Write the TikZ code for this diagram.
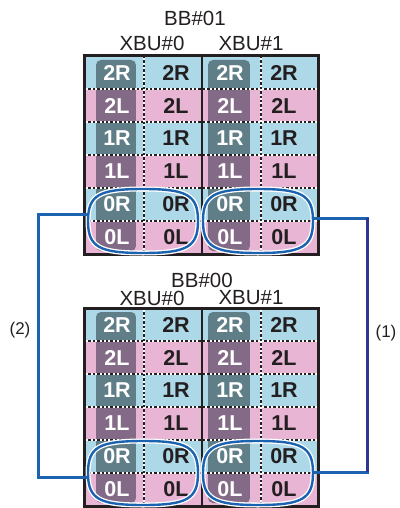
\documentclass[tikz,border=0pt]{standalone}
\usepackage{fontspec}
\setmainfont{Liberation Sans}
\usetikzlibrary{calc}
\definecolor{lblue}{HTML}{ADD8E7}
\definecolor{lpink}{HTML}{E8B6D4}
\definecolor{dteal}{HTML}{5F7E88}
\definecolor{dmauve}{HTML}{836A86}
\definecolor{ink}{HTML}{231F20}
\definecolor{cblue}{HTML}{1B62B0}
\definecolor{cnavy}{HTML}{2E3592}
\tikzset{
  title/.style={text=ink, inner sep=0pt, font=\fontsize{20.5}{24}\selectfont},
  small/.style={text=ink, inner sep=0pt, font=\fontsize{17}{20}\selectfont},
  lw/.style={text=white, inner sep=0pt, font=\fontsize{21.5}{24}\selectfont\bfseries},
  lk/.style={text=ink, inner sep=0pt, font=\fontsize{21.5}{24}\selectfont\bfseries},
  sepline/.style={ink, line width=1.1pt, dash pattern=on 2.4pt off 2pt,
    preaction={draw=white, solid, line width=1.1pt}},
  border/.style={draw=ink, line width=3pt},
  ringbox/.style={minimum width=110pt, minimum height=64pt, inner sep=0pt, outer sep=0pt},
  ringline/.style={draw=cblue, line width=2.4pt,
    preaction={draw=white, line width=5pt}},
  conn/.style={draw=cblue, line width=3pt},
}
\begin{document}
\begin{tikzpicture}[x=1pt,y=-1pt]
\useasboundingbox (0,0) rectangle (399,508);
\foreach \by/\tg/\bbl/\bbx/\bby/\xy in {56/t/01/195/18/43.5, 308/b/00/202/280/298}{
  \node[title] (\tg-bb) at (\bbx,\bby) {BB\#\bbl};
  \node[title] (\tg-x0) at (152,\xy) {XBU\#0};
  \node[title] (\tg-x1) at (251,\xy) {XBU\#1};
  % row fills
  \foreach \fc [count=\i from 0] in {lblue,lpink,lblue,lpink,lblue,lpink}{
    \fill[\fc] (84,\by+33*\i) rectangle (318,\by+33*\i+33);
  }
  % dark columns
  \foreach \dl/\dr in {96/136,208/250}{
    \begin{scope}
      \clip[rounded corners=5pt] (\dl,\by+4) rectangle (\dr,\by+195);
      \foreach \dc [count=\i from 0] in {dteal,dmauve,dteal,dmauve,dteal,dmauve}{
        \fill[\dc] (\dl,\by+33*\i) rectangle (\dr,\by+33*\i+33);
      }
    \end{scope}
  }
  % separators
  \foreach \i in {1,...,5}{
    \draw[sepline] (84,\by+33*\i) -- (318,\by+33*\i);
  }
  \draw[sepline] (144,\by) -- (144,\by+198);
  \draw[sepline] (261,\by) -- (261,\by+198);
  % labels
  \foreach \lab [count=\i from 0] in {2R,2L,1R,1L,0R,0L}{
    \node[lw] (\tg-a\i) at (117,\by+33*\i+16.5) {\lab};
    \node[lk] (\tg-b\i) at (176,\by+33*\i+16.5) {\lab};
    \node[lw] (\tg-c\i) at (230,\by+33*\i+16.5) {\lab};
    \node[lk] (\tg-d\i) at (284,\by+33*\i+16.5) {\lab};
  }
  % borders
  \draw[border] (84,\by) rectangle (318,\by+198);
  \draw[ink, line width=2pt] (202,\by) -- (202,\by+198);
  % rings
  \node[ringbox] (\tg-e0) at (143,\by+165) {};
  \node[ringbox] (\tg-e1) at (258,\by+165) {};
  \foreach \e in {e0,e1}{
    \draw[ringline] (\tg-\e.west) .. controls +(0,-26) and +(-44,0) .. (\tg-\e.north)
      .. controls +(44,0) and +(0,-26) .. (\tg-\e.east)
      .. controls +(0,26) and +(44,0) .. (\tg-\e.south)
      .. controls +(-44,0) and +(0,26) .. (\tg-\e.west) -- cycle;
  }
}
% connectors
\draw[conn] ($(t-e0.west)+(0,-7)$) -- ++(-50,0) coordinate (c2) |- ($(b-e0.west)+(0,4)$);
\draw[conn] ($(t-e1.east)+(0,-3)$) -- ++(54,0) coordinate (c1) |- ($(b-e1.east)+(0,-1)$);
\draw[cnavy, line width=3pt] (c1) -- ($(c1 |- b-e1.east)+(0,-1)$);
\node[small] (l2) at (20,330) {(2)};
\node[small] (l1) at (386,333) {(1)};
\end{tikzpicture}
\end{document}
